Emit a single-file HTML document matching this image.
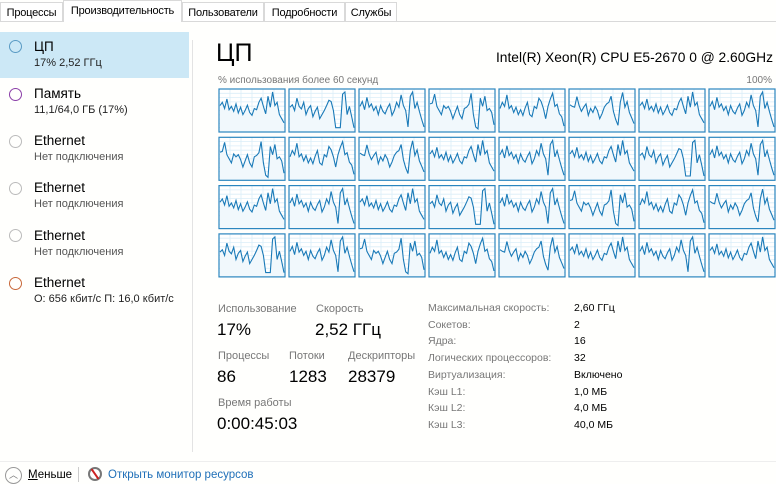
<!DOCTYPE html>
<html><head><meta charset="utf-8">
<style>
*{margin:0;padding:0;box-sizing:border-box}
body{width:776px;height:482px;background:#fffffd;font-family:"Liberation Sans","Noto Sans CJK SC",sans-serif;position:relative;overflow:hidden;color:#000}
.a{position:absolute;white-space:nowrap}
.tab{position:absolute;top:2px;height:19px;font-size:11px;padding:4px 0 0;text-align:center;border:1px solid #d9d9d9;border-bottom:none;background:#fff;color:#000;overflow:hidden;letter-spacing:-0.2px}
.tab.sel{top:0;height:22px;border-color:#d9d9d9;background:#fff}
.circ{position:absolute;left:9px;width:13px;height:13px;border-radius:50%;border:1.5px solid #bbb}
.it{font-size:13.5px}
.sub{font-size:11px;color:#555}
.lbl{font-size:11px;color:#777}
.val{font-size:17px;color:#000}
.rl{font-size:10.5px;color:#777}
.rv{font-size:10.5px;color:#000}
</style></head><body>
<div class="a" style="left:0;top:21px;width:776px;height:1px;background:#d9d9d9"></div>
<div class="tab" style="left:0;width:63px">Процессы</div>
<div class="tab sel" style="left:63px;width:119px">Производительность</div>
<div class="tab" style="left:182px;width:82px">Пользователи</div>
<div class="tab" style="left:264px;width:81px">Подробности</div>
<div class="tab" style="left:345px;width:52px">Службы</div>

<div class="a" style="left:0;top:32px;width:189px;height:46px;background:#cce8f6"></div>
<div class="circ" style="top:40px;border-color:#5a9bc4"></div>
<div class="a it" style="left:34px;top:39px">ЦП</div>
<div class="a sub" style="left:34px;top:57px;color:#222">17% 2,52 ГГц</div>

<div class="circ" style="top:88px;border-color:#8b3fa8"></div>
<div class="a it" style="left:34px;top:86px">Память</div>
<div class="a sub" style="left:34px;top:104px;color:#222">11,1/64,0 ГБ (17%)</div>

<div class="circ" style="top:135px"></div>
<div class="a it" style="left:34px;top:133px">Ethernet</div>
<div class="a sub" style="left:34px;top:151px">Нет подключения</div>
<div class="circ" style="top:182px"></div>
<div class="a it" style="left:34px;top:180px">Ethernet</div>
<div class="a sub" style="left:34px;top:198px">Нет подключения</div>
<div class="circ" style="top:229px"></div>
<div class="a it" style="left:34px;top:228px">Ethernet</div>
<div class="a sub" style="left:34px;top:246px">Нет подключения</div>
<div class="circ" style="top:277px;border-color:#c8683a"></div>
<div class="a it" style="left:34px;top:275px">Ethernet</div>
<div class="a sub" style="left:34px;top:293px;color:#222">О: 656 кбит/с П: 16,0 кбит/с</div>

<div class="a" style="left:192px;top:40px;width:1px;height:412px;background:#e3e3e3"></div>

<div class="a" style="left:216px;top:39px;font-size:25px">ЦП</div>
<div class="a" style="right:3px;top:50px;font-size:13.8px">Intel(R) Xeon(R) CPU E5-2670 0 @ 2.60GHz</div>
<div class="a" style="left:218px;top:75px;font-size:10px;color:#777">% использования более 60 секунд</div>
<div class="a" style="right:4px;top:75px;font-size:10px;color:#777">100%</div>

<svg class="a" id="grid" style="left:0;top:0" width="776" height="300"></svg>

<div class="a lbl" style="left:218px;top:303px">Использование</div>
<div class="a val" style="left:217px;top:320px">17%</div>
<div class="a lbl" style="left:316px;top:303px">Скорость</div>
<div class="a val" style="left:315px;top:320px">2,52 ГГц</div>
<div class="a lbl" style="left:218px;top:350px">Процессы</div>
<div class="a val" style="left:217px;top:367px">86</div>
<div class="a lbl" style="left:289px;top:350px">Потоки</div>
<div class="a val" style="left:289px;top:367px">1283</div>
<div class="a lbl" style="left:348px;top:350px">Дескрипторы</div>
<div class="a val" style="left:348px;top:367px">28379</div>
<div class="a lbl" style="left:218px;top:397px">Время работы</div>
<div class="a val" style="left:217px;top:414px">0:00:45:03</div>

<div class="a rl" style="left:428px;top:302px">Максимальная скорость:</div>
<div class="a rv" style="left:574px;top:302px">2,60 ГГц</div>
<div class="a rl" style="left:428px;top:319px">Сокетов:</div>
<div class="a rv" style="left:574px;top:319px">2</div>
<div class="a rl" style="left:428px;top:335px">Ядра:</div>
<div class="a rv" style="left:574px;top:335px">16</div>
<div class="a rl" style="left:428px;top:352px">Логических процессоров:</div>
<div class="a rv" style="left:574px;top:352px">32</div>
<div class="a rl" style="left:428px;top:369px">Виртуализация:</div>
<div class="a rv" style="left:574px;top:369px">Включено</div>
<div class="a rl" style="left:428px;top:386px">Кэш L1:</div>
<div class="a rv" style="left:574px;top:386px">1,0 МБ</div>
<div class="a rl" style="left:428px;top:402px">Кэш L2:</div>
<div class="a rv" style="left:574px;top:402px">4,0 МБ</div>
<div class="a rl" style="left:428px;top:419px">Кэш L3:</div>
<div class="a rv" style="left:574px;top:419px">40,0 МБ</div>

<div class="a" style="left:0;top:461px;width:776px;height:1px;background:#eee"></div>
<div class="a" style="left:5px;top:467px;width:17px;height:17px;border-radius:50%;border:1px solid #999;font-size:9px;color:#777;text-align:center;line-height:14px">︿</div>
<div class="a" style="left:28px;top:469px;font-size:11.5px"><u>М</u>еньше</div>
<div class="a" style="left:78px;top:467px;width:1px;height:15px;background:#ccc"></div>
<div class="a" style="left:88px;top:467px;width:14px;height:14px;border-radius:50%;border:2px solid #777;background:#fff"><div style="position:absolute;left:4px;top:-1px;width:2px;height:12px;background:#c22;transform:rotate(-35deg)"></div></div>
<div class="a" style="left:108px;top:469px;font-size:11.5px;color:#1f6fb8">Открыть монитор ресурсов</div>

<script>
const cols = 8, rows = 4;
const coreA = [62,70,55,78,52,60,48,66,44,58,40,50,63,45,38,55,52,70,80,60,42,85,58,95,62,70,40,30,20];
const coreB = [58,64,50,80,60,54,70,40,55,62,35,48,58,30,40,50,62,75,72,50,8,8,8,90,95,40,60,35,8];
const coreC = [60,72,52,82,58,66,50,60,40,62,48,42,56,66,38,50,70,58,88,62,50,10,85,95,55,70,48,28,10];
const coreD = [66,68,90,60,50,40,62,55,60,48,30,45,60,40,30,55,58,65,92,40,10,5,80,60,85,50,55,45,15];
const coreE = [55,70,60,88,55,62,45,58,40,52,38,56,70,40,35,60,55,80,72,55,30,60,78,92,60,65,42,35,12];
const coreF = [64,60,58,84,62,48,58,66,38,55,45,60,50,30,42,58,66,70,85,48,28,14,70,94,58,72,45,32,18];
const coreData = [coreA,coreB,coreC,coreD,coreE,coreF,coreA,coreC];
const svg = document.getElementById('grid');
const NS = 'http://www.w3.org/2000/svg';
const x0 = 219, y0 = 89, cw = 66, ch = 43, sx = 70, sy = 48.3;
for (let r = 0; r < rows; r++) for (let c = 0; c < cols; c++) {
  const idx = r*cols + c;
  const data = coreData[(c + r*3) % coreData.length];
  const gx = x0 + c*sx, gy = y0 + r*sy;
  const g = document.createElementNS(NS,'g');
  
  
  const bg = document.createElementNS(NS,'rect');
  bg.setAttribute('x', gx); bg.setAttribute('y', gy); bg.setAttribute('width', cw); bg.setAttribute('height', ch);
  bg.setAttribute('fill', '#fff');
  g.appendChild(bg);
  for (let i = 1; i < 10; i++) {
    const l = document.createElementNS(NS,'line');
    const y = gy + ch*i/10;
    l.setAttribute('x1', gx); l.setAttribute('x2', gx+cw); l.setAttribute('y1', y); l.setAttribute('y2', y);
    l.setAttribute('stroke', '#dbeef8'); l.setAttribute('stroke-width', '0.8');
    g.appendChild(l);
  }
  for (let i = 1; i < 6; i++) {
    const l = document.createElementNS(NS,'line');
    const x = gx + cw*i/6;
    l.setAttribute('x1', x); l.setAttribute('x2', x); l.setAttribute('y1', gy); l.setAttribute('y2', gy+ch);
    l.setAttribute('stroke', '#dbeef8'); l.setAttribute('stroke-width', '0.8');
    g.appendChild(l);
  }
  const n = data.length;
  const px = i => gx + 1 + (cw-2)*i/(n-1);
  const py = v => gy + ch - 1 - (ch-2)*v/100;
  let d = '', fd = 'M' + px(0) + ',' + (gy+ch);
  data.forEach((v,i) => { d += (i ? 'L' : 'M') + px(i).toFixed(1) + ',' + py(v).toFixed(1); fd += 'L' + px(i).toFixed(1) + ',' + py(v).toFixed(1); });
  fd += 'L' + px(n-1) + ',' + (gy+ch) + 'Z';
  const f = document.createElementNS(NS,'path');
  f.setAttribute('d', fd); f.setAttribute('fill', '#f1f8fc');
  g.appendChild(f);
  const p = document.createElementNS(NS,'path');
  p.setAttribute('d', d); p.setAttribute('fill', 'none'); p.setAttribute('stroke', '#1a7ab8'); p.setAttribute('stroke-width', '1.1');
  
  
  g.appendChild(p);
  const b = document.createElementNS(NS,'rect');
  b.setAttribute('x', gx); b.setAttribute('y', gy); b.setAttribute('width', cw); b.setAttribute('height', ch);
  b.setAttribute('fill', 'none'); b.setAttribute('stroke', '#2b86bf'); b.setAttribute('stroke-width', '1.2');
  g.appendChild(b);
  svg.appendChild(g);
}
</script>
</body></html>
